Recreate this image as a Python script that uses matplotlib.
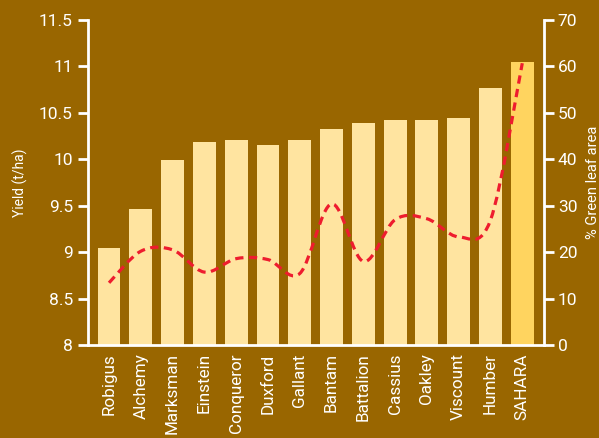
import matplotlib
matplotlib.use("Agg")
import matplotlib.pyplot as plt
from matplotlib.path import Path
from matplotlib.patches import PathPatch
import numpy as np

categories = ["Robigus", "Alchemy", "Marksman", "Einstein", "Conqueror", "Duxford",
              "Gallant", "Bantam", "Battalion", "Cassius", "Oakley", "Viscount",
              "Humber", "SAHARA"]
yield_t_ha = [9.04, 9.47, 9.99, 10.19, 10.21, 10.15, 10.21, 10.33, 10.39, 10.42,
              10.42, 10.45, 10.77, 11.05]
green_leaf = [13.4, 20.2, 20.5, 15.7, 18.6, 18.4, 15.4, 30.4, 18.0, 27.0,
              27.2, 23.3, 26.9, 60.7]
left_ticks = [8, 8.5, 9, 9.5, 10, 10.5, 11, 11.5]
left_tick_labels = ["8", "8.5", "9", "9.5", "10", "10.5", "11", "11.5"]
right_ticks = [0, 10, 20, 30, 40, 50, 60, 70]

BG = "#996600"
BAR = "#FFE4A0"
BAR_HI = "#FFD45F"
LINE = "#EE1C2E"
WHITE = "white"

plt.rcParams['font.family'] = ['Roboto', 'DejaVu Sans']

fig = plt.figure(figsize=(5.99, 4.38), dpi=100, facecolor=BG)
ax = fig.add_axes([0.147, 0.2123, 0.761, 0.742])
ax.set_facecolor(BG)

x = np.arange(len(categories))
colors = [BAR] * (len(categories) - 1) + [BAR_HI]
ax.bar(x, [v - 8 for v in yield_t_ha], bottom=8, width=0.72, color=colors, zorder=2)
ax.set_ylim(8, 11.5)
ax.set_xlim(-0.66, 13.68)
ax.set_yticks(left_ticks)
ax.set_yticklabels(left_tick_labels)
ax.set_xticks(x)
ax.set_xticklabels(categories, rotation=90)

for s in ["top", "right"]:
    ax.spines[s].set_visible(False)
for s in ["left", "bottom"]:
    ax.spines[s].set_color(WHITE)
    ax.spines[s].set_linewidth(2)
ax.tick_params(axis='y', colors=WHITE, labelsize=12.5, length=7, width=2, pad=4)
ax.tick_params(axis='x', colors=WHITE, labelsize=12.3, length=0, pad=6)
ax.set_ylabel("Yield (t/ha)", color=WHITE, fontsize=10, labelpad=8)

ax2 = ax.twinx()
ax2.set_ylim(0, 70)
ax2.set_yticks(right_ticks)
for s in ["top", "left", "bottom"]:
    ax2.spines[s].set_visible(False)
ax2.spines["right"].set_color(WHITE)
ax2.spines["right"].set_linewidth(2)
ax2.tick_params(axis='y', colors=WHITE, labelsize=12.5, length=7, width=2, pad=3)
ax2.set_ylabel("% Green leaf area", color=WHITE, fontsize=10.5, labelpad=6)

# smooth line through the data points (Catmull-Rom as cubic Bezier segments)
pts = np.column_stack([x, green_leaf]).astype(float)
ext = np.vstack([pts[0], pts, pts[-1]])
verts = [tuple(pts[0])]
codes = [Path.MOVETO]
for i in range(1, len(ext) - 2):
    p0, p1, p2, p3 = ext[i - 1], ext[i], ext[i + 1], ext[i + 2]
    c1 = p1 + (p2 - p0) / 6.0
    c2 = p2 - (p3 - p1) / 6.0
    verts += [tuple(c1), tuple(c2), tuple(p2)]
    codes += [Path.CURVE4] * 3
patch = PathPatch(Path(verts, codes), facecolor='none', edgecolor=LINE, lw=2.3,
                  linestyle=(0, (2.6, 1.7)), zorder=3, transform=ax2.transData)
ax2.add_patch(patch)

fig.savefig("out.png", dpi=100, facecolor=BG)
